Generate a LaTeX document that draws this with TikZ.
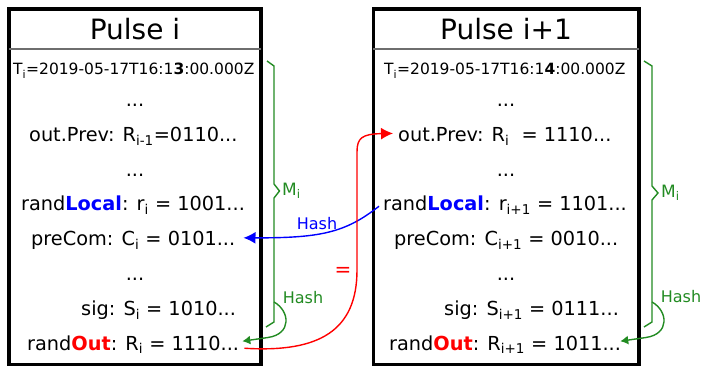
\documentclass[tikz,border=0pt]{standalone}
\usepackage{fontspec}
\setmainfont{DejaVu Sans}
\usetikzlibrary{arrows.meta}
\definecolor{grn}{RGB}{34,139,34}
\definecolor{sepgray}{RGB}{110,110,110}
\newcommand\sbs[1]{\textsubscript{#1}}
\tikzset{
  pbox/.style={draw=black, line width=3.5pt, inner sep=0, outer sep=0},
  title/.style={font=\fontsize{28}{32}\selectfont, inner sep=0},
  row/.style={font=\fontsize{19.3}{23}\selectfont, anchor=base west, inner sep=0},
  trow/.style={font=\fontsize{15.5}{18}\selectfont, anchor=base west, inner sep=0},
  dots/.style={font=\fontsize{19.3}{23}\selectfont, anchor=base, inner sep=0},
  lab/.style={font=\fontsize{16}{19}\selectfont, inner sep=0},
  sepline/.style={draw=sepgray, line width=1.5pt},
  brace/.style={draw=grn, line width=1.4pt},
  hasharrow/.style={draw=grn, line width=1.4pt, -{Latex[length=8pt,width=9pt]}},
}
\begin{document}
\begin{tikzpicture}[x=1pt,y=-1pt]
\useasboundingbox (0,0) rectangle (702,366);
% boxes
\node[pbox, minimum width=252pt, minimum height=355.5pt] (lbox) at (135,186.75) {};
\node[pbox, minimum width=265.7pt, minimum height=355.5pt] (rbox) at (506.15,186.75) {};
\draw[sepline] (lbox.west |- 0,49) -- (lbox.east |- 0,49);
\draw[sepline] (rbox.west |- 0,49) -- (rbox.east |- 0,49);
\node[title] (lt) at (135,29.5) {Pulse i};
\node[title] (rt) at (506,29.5) {Pulse i+1};
% left rows
\node[trow] (L0) at (13,75) {T\sbs{i}=2019-05-17T16:1\textbf{3}:00.000Z};
\node[dots] (L1) at (135,107) {...};
\node[row] (L2) at (29,142) {out.Prev: R\sbs{i-1}=0110...};
\node[dots] (L3) at (135,177) {...};
\node[row] (L4) at (21,211) {rand\textcolor{blue}{\textbf{Local}}: r\sbs{i} = 1001...};
\node[row] (L5) at (31,246) {preCom: C\sbs{i} = 0101...};
\node[dots] (L6) at (135,281) {...};
\node[row] (L7) at (81,316) {sig: S\sbs{i} = 1010...};
\node[row] (L8) at (27,350) {rand\textcolor{red}{\textbf{Out}}: R\sbs{i} = 1110...};
% right rows
\node[trow] (R0) at (384,75) {T\sbs{i}=2019-05-17T16:1\textbf{4}:00.000Z};
\node[dots] (R1) at (506,107) {...};
\node[row] (R2) at (398,142) {out.Prev: R\sbs{i}\ \ = 1110...};
\node[dots] (R3) at (506,177) {...};
\node[row] (R4) at (383,211) {rand\textcolor{blue}{\textbf{Local}}: r\sbs{i+1} = 1101...};
\node[row] (R5) at (394,246) {preCom: C\sbs{i+1} = 0010...};
\node[dots] (R6) at (506,281) {...};
\node[row] (R7) at (444,316) {sig: S\sbs{i+1} = 0111...};
\node[row] (R8) at (389,350) {rand\textcolor{red}{\textbf{Out}}: R\sbs{i+1} = 1011...};
% braces
\coordinate (bl1) at (274,302);
\coordinate (br1) at (652,302);
\draw[brace] (267,61) -- (274,66) -- (274,184) -- (279.5,191) -- (274,198) -- (274,322) -- (266,327);
\draw[brace] (644,61) -- (652,66) -- (652,186) -- (658,193) -- (652,200) -- (652,322) -- (644,327);
\node[lab, text=grn, anchor=west, font=\fontsize{17}{20}\selectfont] (ml) at (282,191) {M\sbs{i}};
\node[lab, text=grn, anchor=west, font=\fontsize{17}{20}\selectfont] (mr) at (661,193) {M\sbs{i}};
% green hash arrows
\draw[hasharrow] (bl1) .. controls (290,311) and (292,334) .. (268,337.5) -- ([xshift=3pt,yshift=3pt]L8.east);
\draw[hasharrow] (br1) .. controls (668,311) and (670,334) .. (646,337.5) -- ([xshift=-1pt,yshift=3pt]R8.east);
\node[lab, text=grn] (hl) at (303,298) {Hash};
\node[lab, text=grn] (hr) at (681,297) {Hash};
% blue hash arrow
\draw[blue, line width=1.4pt, -{Latex[length=12pt,width=12pt]}] ([xshift=-4pt,yshift=-1pt]R4.west) .. controls (345,233) and (320,238) .. ([xshift=8pt,yshift=3pt]L5.east);
\node[lab, text=blue] (hb) at (317,224) {Hash};
% red equality arrow
\draw[red, line width=1.4pt, -{Latex[length=12pt,width=12pt]}] ([xshift=5pt,yshift=-4pt]L8.east) .. controls (320,353) and (357,330) .. (357,270) -- (357,152) .. controls (357,138) and (362,134) .. ([xshift=-5pt,yshift=3pt]R2.west);
\node[lab, text=red, font=\fontsize{20}{24}\selectfont] (eq) at (343,272) {=};
\end{tikzpicture}
\end{document}
